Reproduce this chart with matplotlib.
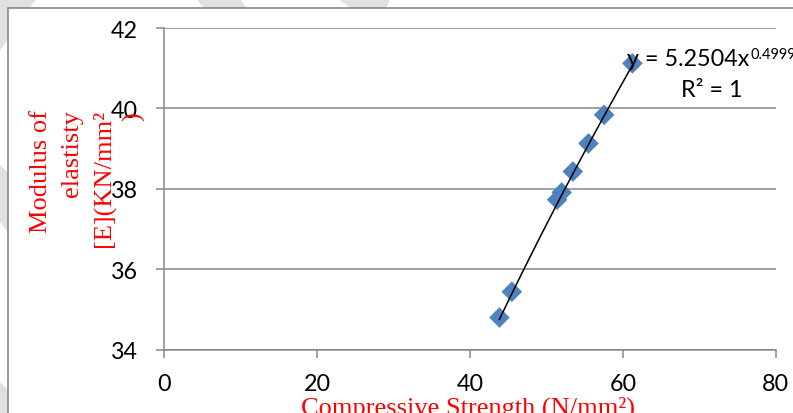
import numpy as np
import matplotlib
matplotlib.use("Agg")
import matplotlib.pyplot as plt
from matplotlib.patches import Polygon, Rectangle

# compressive strength (N/mm2) vs modulus of elasticity (KN/mm2)
strength = [43.85, 45.47, 51.4, 52.0, 53.46, 55.5, 57.55, 61.25]
modulus = [34.80, 35.44, 37.73, 37.91, 38.43, 39.13, 39.84, 41.12]

# power trendline E = a * fc^b
coef_a = 5.2504
coef_b = 0.4999
r_squared = 1

x_ticks = [0, 20, 40, 60, 80]
y_ticks = [34, 36, 38, 40, 42]

W, H = 793, 414
grid_grey = "#878787"
tick_font = "Lato"
label_font = "Liberation Serif"


def px(x, y):
    # pixel position (origin top-left) -> figure fraction
    return x / W, 1 - y / H


fig = plt.figure(figsize=(W / 100, H / 100), dpi=100)

# light grey diagonal bands of the page background
bands = [
    [(0, 0), (36, 0), (-6, 60)],
    [(197, 0), (240, 0), (247, 10), (204, 10)],
    [(338, 0), (390, 0), (386, 10), (352, 10)],
    [(0, 166), (10, 176), (10, 236), (0, 223)],
    [(0, 383), (10, 393), (10, 414), (0, 414)],
]
for b in bands:
    fig.patches.append(Polygon([px(*p) for p in b], closed=True,
                               transform=fig.transFigure, facecolor="#e0e0e0",
                               edgecolor="none", zorder=0))

# chart frame
x0, y0 = px(8, 9)
fig.patches.append(Rectangle((x0, -0.1), 1.2, y0 + 0.1, transform=fig.transFigure,
                             facecolor="white", edgecolor=grid_grey,
                             linewidth=1.2, zorder=1))

ax = fig.add_axes([164.3 / W, (H - 350.7) / H, 611.4 / W, 321.7 / H])
ax.set_facecolor("none")
ax.set_zorder(2)

ax.set_xlim(0, 80)
ax.set_ylim(34, 42)
ax.set_xticks(x_ticks)
ax.set_yticks(y_ticks)

for side in ["top", "right"]:
    ax.spines[side].set_visible(False)
for side in ["left", "bottom"]:
    ax.spines[side].set_color(grid_grey)
    ax.spines[side].set_linewidth(1.1)

ax.grid(True, axis="y", color=grid_grey, linewidth=1.1)
ax.set_axisbelow(True)
ax.tick_params(axis="both", direction="out", length=5.8, width=1.1,
               color=grid_grey, labelsize=16.8, labelcolor="black")
ax.tick_params(axis="y", pad=13)
ax.tick_params(axis="x", pad=11)
for lbl in ax.get_xticklabels() + ax.get_yticklabels():
    lbl.set_fontfamily(tick_font)

ax.scatter(strength, modulus, marker="D", s=10.5 ** 2, color="#4f81bd",
           edgecolors="none", zorder=3, clip_on=False)

fit_x = np.linspace(min(strength), max(strength), 100)
ax.plot(fit_x, coef_a * fit_x ** coef_b, color="black", linewidth=1.1,
        zorder=4, clip_on=False)

# trendline equation
eq = ax.text(0.757, 0.904, f"y = {coef_a:.4f}x", transform=ax.transAxes,
             ha="left", va="center", fontsize=16.8, family=tick_font,
             clip_on=False, zorder=5)
ax.text(0.896, 0.810, f"R² = {r_squared}", transform=ax.transAxes,
        ha="center", va="center", fontsize=16.8, family=tick_font,
        clip_on=False, zorder=5)

# exponent drawn as a raised, smaller run after the main text
fig.canvas.draw()
bb = eq.get_window_extent()
fig.text((bb.x1 + 1) / W, (bb.y1 + 1) / H, f"{coef_b:.4f}", ha="left", va="top",
         fontsize=10.5, family=tick_font)

# axis titles
red = "#ff0000"
ylab_lines = [("Modulus of", 41), ("elastisty", 72), ("[E](KN/mm²", 103)]
for s, xc in ylab_lines:
    fx, fy = px(xc, 110)
    fig.text(fx, fy, s, rotation=90, rotation_mode="anchor", ha="right",
             va="center", fontsize=19, family=label_font, color=red)
fx, fy = px(134, 117)
fig.text(fx, fy, ")", rotation=90, rotation_mode="anchor", ha="center",
         va="center", fontsize=19, family=label_font, color=red)

fx, fy = px(468, 397)
fig.text(fx, fy, "Compressive Strength (N/mm²)", ha="center", va="top",
         fontsize=19, family=label_font, color=red)

fig.savefig("out.png", dpi=100)
